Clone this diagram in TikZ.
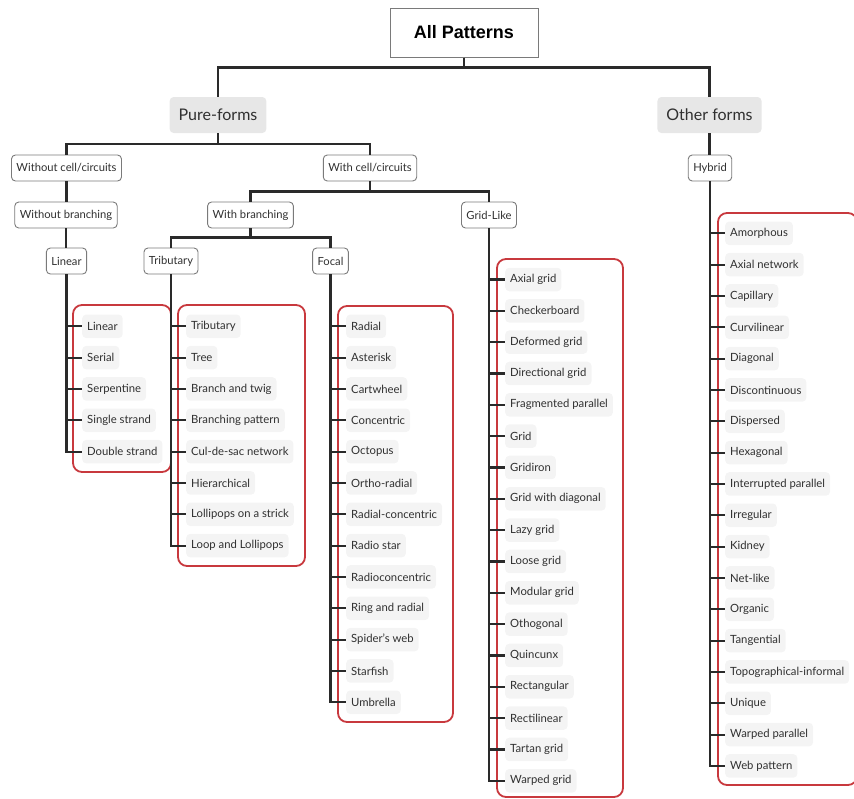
\documentclass[tikz,border=0pt]{standalone}
\usepackage{fontspec}
\setmainfont{Lato}
\newfontfamily\titlefont{Liberation Sans}
\definecolor{linkcol}{HTML}{2A2A2A}
\definecolor{framered}{HTML}{C8393E}
\definecolor{leaffill}{HTML}{F4F4F4}
\definecolor{headfill}{HTML}{E7E7E7}
\definecolor{boxline}{HTML}{7A7A7A}
\definecolor{txt}{HTML}{303030}
\begin{document}
\begin{tikzpicture}[x=1pt,y=-1pt,
  link/.style={draw=linkcol,line width=2.1pt},
  rootbox/.style={draw=boxline,line width=1pt,fill=white,minimum width=148pt,minimum height=49pt,
    font=\titlefont\bfseries\fontsize{18}{20}\selectfont,text=black},
  headbox/.style={fill=headfill,rounded corners=4pt,minimum height=36pt,inner xsep=9pt,
    font=\fontsize{16}{18}\selectfont,text=txt},
  midbox/.style={draw=boxline,line width=0.9pt,fill=white,rounded corners=4pt,minimum height=26pt,
    inner xsep=5pt,font=\fontsize{11.2}{13}\selectfont,text=txt},
  leaf/.style={fill=leaffill,rounded corners=4pt,minimum height=23.5pt,inner xsep=5pt,anchor=west,
    font=\fontsize{11.3}{13}\selectfont,text=txt},
  frame/.style={draw=framered,line width=1.8pt,rounded corners=9pt},
]
\useasboundingbox (0,0) rectangle (854,798);
\clip (0,0) rectangle (854,798);

% red frames around each leaf group
\draw[frame] (73,305) rectangle (171,472);
\draw[frame] (178,305) rectangle (305,566);
\draw[frame] (338,306) rectangle (453,722);
\draw[frame] (497,259) rectangle (623,797);
\draw[frame] (718,213) rectangle (857,785);

% upper levels
\node[rootbox] (all) at (464,32.5) {All Patterns};
\node[headbox] (pure) at (218,115) {Pure-forms};
\node[headbox] (other) at (709.5,115) {Other forms};
\node[midbox] (woc) at (66.5,168) {Without cell/circuits};
\node[midbox] (wc) at (370,168) {With cell/circuits};
\node[midbox] (hyb) at (710,168) {Hybrid};
\node[midbox] (wob) at (66,215) {Without branching};
\node[midbox] (wb) at (250.5,215) {With branching};
\node[midbox] (grid) at (489,215) {Grid-Like};
\node[midbox] (lin) at (66.5,261) {Linear};
\node[midbox] (trib) at (171,261) {Tributary};
\node[midbox] (foc) at (330.5,261) {Focal};

\draw[link] (all.south) -- ++(0,10) -| (pure.north);
\draw[link] (all.south) -- ++(0,10) -| (other.north);
\draw[link] (pure.south) -- ++(0,11) -| (woc.north);
\draw[link] (pure.south) -- ++(0,11) -| (wc.north);
\draw[link] (other.south) -- (other.south |- hyb.north);
\draw[link] (woc.south) -- (woc.south |- wob.north);
\draw[link] (wob.south) -- (wob.south |- lin.north);
\draw[link] (wc.south) -- ++(0,10) -| (wb.north);
\draw[link] (wc.south) -- ++(0,10) -| (grid.north);
\draw[link] (wb.south) -- ++(0,9) -| (trib.north);
\draw[link] (wb.south) -- ++(0,9) -| (foc.north);

% leaf lists: each leaf hangs off its parent's trunk
\foreach \t [count=\i] in {Linear,Serial,Serpentine,Single strand,Double strand}{
  \node[leaf] (la\i) at (82,{326.3+(\i-1)*31.33}) {\t};
  \draw[link] (lin.south) |- (la\i.west);
}
\foreach \t [count=\i] in {Tributary,Tree,Branch and twig,Branching pattern,Cul-de-sac network,
  Hierarchical,Lollipops on a strick,Loop and Lollipops}{
  \node[leaf] (lb\i) at (186,{326.3+(\i-1)*31.33}) {\t};
  \draw[link] (trib.south) |- (lb\i.west);
}
\foreach \t [count=\i] in {Radial,Asterisk,Cartwheel,Concentric,Octopus,Ortho-radial,
  Radial-concentric,Radio star,Radioconcentric,Ring and radial,Spider’s web,Starfish,Umbrella}{
  \node[leaf] (lc\i) at (346,{326.3+(\i-1)*31.33}) {\t};
  \draw[link] (foc.south) |- (lc\i.west);
}
\foreach \t [count=\i] in {Axial grid,Checkerboard,Deformed grid,Directional grid,Fragmented parallel,
  Grid,Gridiron,Grid with diagonal,Lazy grid,Loose grid,Modular grid,Othogonal,Quincunx,
  Rectangular,Rectilinear,Tartan grid,Warped grid}{
  \node[leaf] (ld\i) at (505,{279.5+(\i-1)*31.33}) {\t};
  \draw[link] (grid.south) |- (ld\i.west);
}
\foreach \t [count=\i] in {Amorphous,Axial network,Capillary,Curvilinear,Diagonal,Discontinuous,
  Dispersed,Hexagonal,Interrupted parallel,Irregular,Kidney,Net-like,Organic,Tangential,
  Topographical-informal,Unique,Warped parallel,Web pattern}{
  \node[leaf] (le\i) at (725,{233.3+(\i-1)*31.33}) {\t};
  \draw[link] (hyb.south) |- (le\i.west);
}
\end{tikzpicture}
\end{document}
